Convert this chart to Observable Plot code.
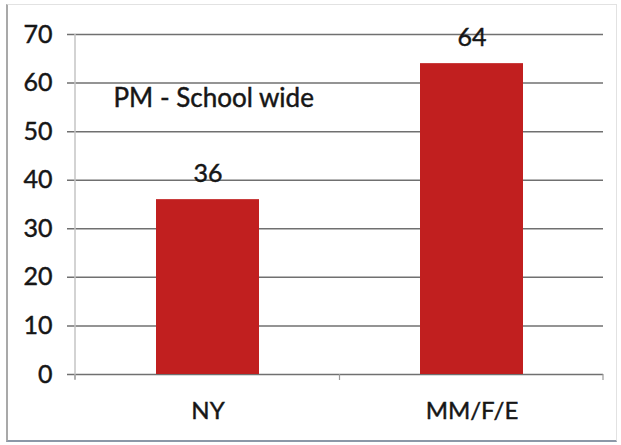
<!DOCTYPE html>
<html>
<head>
<meta charset="utf-8">
<script src="https://cdn.jsdelivr.net/npm/d3@7"></script>
<script src="https://cdn.jsdelivr.net/npm/@observablehq/plot@0.6"></script>
<style>
  body { margin: 0; background: #fff; }
  #wrap { position: relative; width: 621px; height: 445px; }
  #box {
    position: absolute; left: 6px; top: 4px; width: 611px; height: 438px;
    box-sizing: border-box;
    border: 1px solid #e2e2e2; border-left: 2px solid #a9a9a9; border-bottom: 2px solid #8c98a8;
  }
  #chart { position: absolute; left: 0; top: 0; }
  /* slightly heavier lettering */
  #chart svg text { stroke: #161616; stroke-width: 0.45px; }
</style>
</head>
<body>
<div id="wrap"><div id="box"></div><div id="chart"></div></div>
<script>
// Categories and their counts
const categories = ["NY", "MM/F/E"];
const values = [36, 64];
const yTicks = [0, 10, 20, 30, 40, 50, 60, 70];
const chartNote = "PM - School wide";

const data = categories.map((c, i) => ({category: c, value: values[i]}));
const font = "Lato, 'Open Sans', sans-serif";
const ink = "#161616";

// Value axis line and the small category-boundary ticks under the baseline
function axisLines(index, scales, vals, dims) {
  const g = d3.create("svg:g");
  const left = dims.marginLeft;
  const right = dims.width - dims.marginRight;
  const top = dims.marginTop;
  const bottom = dims.height - dims.marginBottom;
  const bw = typeof scales.x.bandwidth === "function" ? scales.x.bandwidth() : scales.x.bandwidth;
  const xs = categories.map(c => scales.x(c));
  const bounds = [left, ...d3.pairs(xs).map(([a, b]) => (a + bw + b) / 2), right];
  g.append("line")
    .attr("x1", left).attr("x2", left).attr("y1", top).attr("y2", bottom + 5)
    .attr("stroke", "#c4c4c4").attr("stroke-width", 1.5);
  g.selectAll("line.b").data(bounds).join("line")
    .attr("x1", d => d).attr("x2", d => d).attr("y1", bottom).attr("y2", bottom + 6)
    .attr("stroke", "#9a9a9a").attr("stroke-width", 1.2);
  return g.node();
}

const chart = Plot.plot({
  width: 621,
  height: 445,
  marginLeft: 75,
  marginRight: 18,
  marginTop: 34,
  marginBottom: 71,
  style: {fontFamily: font, background: "transparent", color: ink},
  x: {domain: categories, paddingInner: 0.61, paddingOuter: 0.305, label: null},
  y: {domain: [0, 70], ticks: yTicks, label: null},
  marks: [
    Plot.gridY(yTicks, {stroke: "#707070", strokeOpacity: 1, strokeWidth: 1.5, insetLeft: -8}),
    axisLines,
    Plot.barY(data, {x: "category", y: "value", fill: "#c11f1f"}),
    Plot.axisY(yTicks, {tickSize: 0, tickPadding: 23, fontSize: 25, fill: ink}),
    Plot.axisX({tickSize: 0, tickPadding: 27, fontSize: 24, fill: ink}),
    Plot.text(data, {x: "category", y: "value", text: d => String(d.value), dy: -26, fontSize: 25, fill: ink}),
    Plot.text([chartNote], {frameAnchor: "top-left", textAnchor: "start", lineAnchor: "middle", dx: 38, dy: 64, fontSize: 26, fill: ink})
  ]
});

document.getElementById("chart").append(chart);
</script>
</body>
</html>
